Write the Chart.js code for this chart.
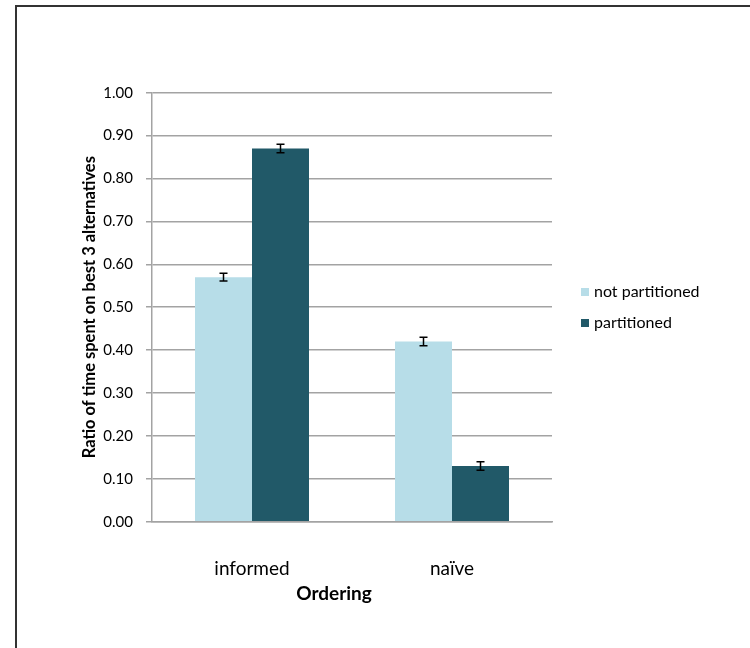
<!DOCTYPE html>
<html>
<head>
<meta charset="utf-8">
<script src="https://cdn.jsdelivr.net/npm/chart.js@4.4.0/dist/chart.umd.min.js"></script>
<style>
  html, body { margin: 0; padding: 0; background: #fff; }
  #wrap { width: 750px; height: 648px; }
</style>
</head>
<body>
<div id="wrap"><canvas id="chart"></canvas></div>
<script>
// data
const categories = ['informed', 'naïve'];
const notPartitioned = [0.57, 0.42];
const partitioned = [0.87, 0.13];
const errNotPartitioned = [0.009, 0.01];
const errPartitioned = [0.01, 0.01];
const seriesNames = ['not partitioned', 'partitioned'];
const yTicks = [0, 0.1, 0.2, 0.3, 0.4, 0.5, 0.6, 0.7, 0.8, 0.9, 1.0];

const lightBlue = '#B7DDE8';
const darkTeal = '#215968';
const gridGray = '#A3A3A3';
const FONT = 'Lato, "Open Sans", sans-serif';

// error bars, titles, legend and frame
const extras = {
    id: 'extras',
    beforeDraw(chart) {
        const c = chart.ctx;
        c.save();
        c.strokeStyle = '#333';
        c.lineWidth = 2;
        c.beginPath();
        c.moveTo(16, 648);
        c.lineTo(16, 6);
        c.lineTo(750, 6);
        c.stroke();
        c.restore();
    },
    afterDatasetsDraw(chart) {
        const c = chart.ctx;
        const y = chart.scales.y;
        const errs = [errNotPartitioned, errPartitioned];
        c.save();
        c.strokeStyle = '#000';
        c.lineWidth = 1.5;
        chart.data.datasets.forEach((ds, i) => {
            const meta = chart.getDatasetMeta(i);
            meta.data.forEach((bar, j) => {
                const v = ds.data[j];
                const e = errs[i][j];
                const top = y.getPixelForValue(v + e);
                const bot = y.getPixelForValue(v - e);
                c.beginPath();
                c.moveTo(bar.x, top); c.lineTo(bar.x, bot);
                c.moveTo(bar.x - 4, top); c.lineTo(bar.x + 4, top);
                c.moveTo(bar.x - 4, bot); c.lineTo(bar.x + 4, bot);
                c.stroke();
            });
        });
        c.restore();
    },
    afterDraw(chart) {
        const c = chart.ctx;
        const area = chart.chartArea;
        c.save();
        c.fillStyle = '#000';
        c.textAlign = 'center';
        c.textBaseline = 'middle';
        c.font = 'bold 19px ' + FONT;
        c.fillText('Ordering', 334, 594);
        c.translate(90, (area.top + area.bottom) / 2);
        c.rotate(-Math.PI / 2);
        c.font = 'bold 16.5px ' + FONT;
        c.fillText('Ratio of time spent on best 3 alternatives', 0, 0);
        c.restore();

        // legend
        c.save();
        c.font = '16px ' + FONT;
        c.textBaseline = 'middle';
        c.textAlign = 'left';
        const colors = [lightBlue, darkTeal];
        seriesNames.forEach((name, i) => {
            const cy = 292 + i * 31;
            c.fillStyle = colors[i];
            c.fillRect(581, cy - 4, 8, 8);
            c.fillStyle = '#000';
            c.fillText(name, 594, cy);
        });
        c.restore();
    }
};

const ctx = document.getElementById('chart').getContext('2d');
const chart = new Chart(ctx, {
    type: 'bar',
    data: {
        labels: categories,
        datasets: [{
            label: seriesNames[0],
            data: notPartitioned,
            backgroundColor: lightBlue
        }, {
            label: seriesNames[1],
            data: partitioned,
            backgroundColor: darkTeal
        }]
    },
    options: {
        responsive: true,
        maintainAspectRatio: false,
        animation: false,
        layout: { padding: { top: 92.7, right: 198, left: 0, bottom: 0 } },
        datasets: {
            bar: { barPercentage: 1.0, categoryPercentage: 0.57 }
        },
        plugins: {
            legend: { display: false },
            tooltip: { enabled: false }
        },
        scales: {
            x: {
                afterFit(scale) { scale.height = 126.3; },
                grid: { display: false },
                border: { color: gridGray, width: 1.5 },
                ticks: { color: '#000', padding: 28, font: { family: FONT, size: 19 } }
            },
            y: {
                min: 0,
                max: 1,
                afterFit(scale) { scale.width = 152; },
                afterBuildTicks(scale) { scale.ticks = yTicks.map(v => ({ value: v })); },
                grid: { color: gridGray, lineWidth: 1.5, tickLength: 6 },
                border: { color: gridGray, width: 1.5 },
                ticks: {
                    color: '#000',
                    padding: 13,
                    font: { family: FONT, size: 15 },
                    callback: v => v.toFixed(2)
                }
            }
        }
    },
    plugins: [extras]
});
</script>
</body>
</html>
